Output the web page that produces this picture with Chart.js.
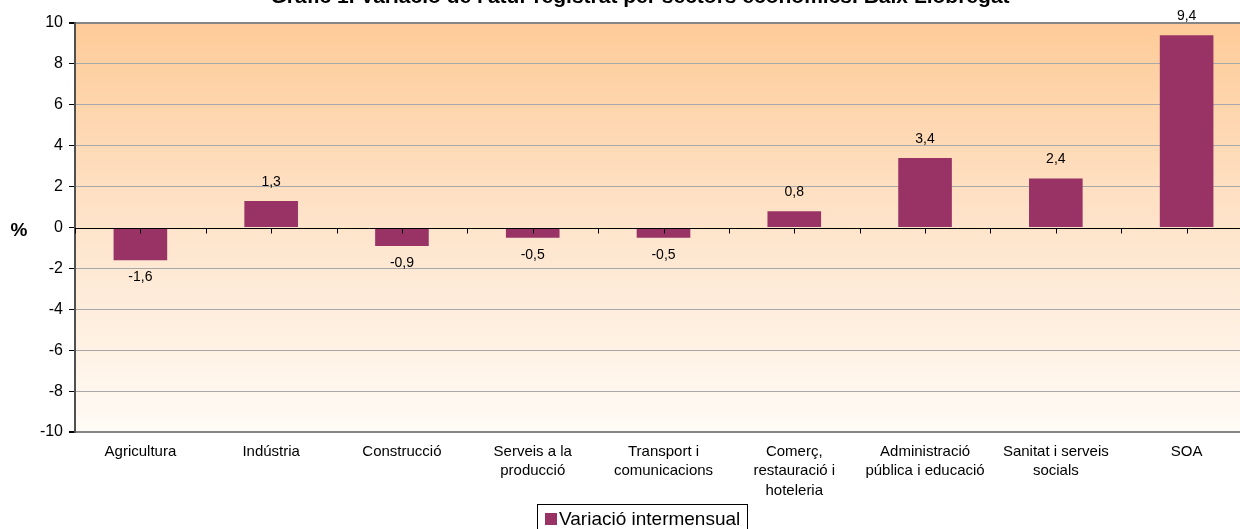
<!DOCTYPE html>
<html>
<head>
<meta charset="utf-8">
<title>Gràfic 1</title>
<script src="https://cdn.jsdelivr.net/npm/chart.js@4/dist/chart.umd.min.js"></script>
<style>
  html, body { margin: 0; padding: 0; background: #fff; overflow: hidden; }
  #wrap { position: absolute; left: 0; top: -12px; width: 1252px; height: 541px; }
</style>
</head>
<body>
<div id="wrap"><canvas id="chart"></canvas></div>
<script>
// ============================================================
// Data
// ============================================================
const titleText = "Gràfic 1. Variació de l'atur registrat per sectors econòmics. Baix Llobregat";
const axisLabel = '%';
const seriesName = 'Variació intermensual';

const categories = [
  'Agricultura',
  'Indústria',
  'Construcció',
  ['Serveis a la', 'producció'],
  ['Transport i', 'comunicacions'],
  ['Comerç,', 'restauració i', 'hoteleria'],
  ['Administració', 'pública i educació'],
  ['Sanitat i serveis', 'socials'],
  'SOA'
];
const values = [-1.6, 1.3, -0.9, -0.5, -0.5, 0.8, 3.4, 2.4, 9.4];

const yMin = -10;
const yMax = 10;
const yStep = 2;

const FONT = "'Liberation Sans', Arial, sans-serif";
const BAR_COLOR = '#993366';

// ============================================================
// Plugins
// ============================================================
const plotBackground = {
  id: 'plotBackground',
  beforeDraw(chart) {
    const { ctx, chartArea: a } = chart;
    const g = ctx.createLinearGradient(0, a.top, 0, a.bottom);
    g.addColorStop(0, '#FECB98');
    g.addColorStop(0.5, '#FEE4CB');
    g.addColorStop(1, '#FFFBF6');
    ctx.save();
    ctx.fillStyle = g;
    ctx.fillRect(a.left, a.top, a.right - a.left, a.bottom - a.top);
    ctx.restore();
  }
};

const zeroAxis = {
  id: 'zeroAxis',
  afterDatasetsDraw(chart) {
    const { ctx, chartArea: a } = chart;
    const x = chart.scales.x;
    const y0 = Math.round(chart.scales.y.getPixelForValue(0)) + 0.5;
    ctx.save();
    ctx.strokeStyle = '#000';
    ctx.lineWidth = 1;
    ctx.beginPath();
    ctx.moveTo(a.left, y0);
    ctx.lineTo(a.right, y0);
    // small ticks every half category, as in the original
    for (let i = -0.5; i <= categories.length - 0.5; i += 0.5) {
      const px = Math.round(x.getPixelForValue(i)) + 0.5;
      ctx.moveTo(px, y0);
      ctx.lineTo(px, y0 + 5);
    }
    ctx.stroke();
    ctx.restore();
  }
};

const dataLabels = {
  id: 'dataLabels',
  afterDatasetsDraw(chart) {
    const { ctx } = chart;
    const meta = chart.getDatasetMeta(0);
    ctx.save();
    ctx.font = `14px ${FONT}`;
    ctx.fillStyle = '#000';
    ctx.textAlign = 'center';
    ctx.textBaseline = 'middle';
    meta.data.forEach((bar, i) => {
      const v = values[i];
      const txt = v.toFixed(1).replace('.', ',');
      const ty = v >= 0 ? bar.y - 19 : bar.y + 17;
      ctx.fillText(txt, bar.x, ty);
    });
    ctx.restore();
  }
};

const decorations = {
  id: 'decorations',
  afterDraw(chart) {
    const { ctx } = chart;
    ctx.save();
    // title (partly cut off at the top, like the original)
    ctx.fillStyle = '#000';
    ctx.font = `bold 21px ${FONT}`;
    ctx.textAlign = 'center';
    ctx.textBaseline = 'alphabetic';
    ctx.fillText(titleText, 640, 15);

    // axis label
    ctx.font = `bold 19px ${FONT}`;
    ctx.textBaseline = 'middle';
    ctx.fillText(axisLabel, 19, 243);

    // legend
    const ds = chart.data.datasets[0];
    ctx.strokeStyle = '#000';
    ctx.lineWidth = 1;
    ctx.strokeRect(537.5, 516.5, 210, 34);
    ctx.fillStyle = ds.backgroundColor;
    ctx.fillRect(545, 525, 12, 12);
    ctx.fillStyle = '#000';
    ctx.font = `19px ${FONT}`;
    ctx.textAlign = 'left';
    ctx.fillText(ds.label, 559, 532);
    ctx.restore();
  }
};

// ============================================================
// Chart
// ============================================================
new Chart(document.getElementById('chart'), {
  type: 'bar',
  data: {
    labels: categories,
    datasets: [{
      label: seriesName,
      data: values,
      backgroundColor: BAR_COLOR,
      borderWidth: 0,
      categoryPercentage: 1,
      barPercentage: 0.41
    }]
  },
  options: {
    responsive: true,
    maintainAspectRatio: false,
    animation: false,
    layout: { padding: { top: 35, right: 0, bottom: 0, left: 0 } },
    plugins: {
      legend: { display: false },
      title: { display: false },
      tooltip: { enabled: false }
    },
    scales: {
      x: {
        grid: { display: false, drawTicks: false },
        border: { display: false },
        ticks: {
          color: '#000',
          font: { family: FONT, size: 15, lineHeight: 1.3 },
          padding: 10,
          maxRotation: 0,
          autoSkip: false
        },
        afterFit: (scale) => { scale.height = 97; }
      },
      y: {
        min: yMin,
        max: yMax,
        ticks: {
          stepSize: yStep,
          color: '#000',
          font: { family: FONT, size: 16 },
          padding: 6
        },
        grid: {
          color: (c) => {
            const v = c.tick ? c.tick.value : null;
            if (v === 0) return 'rgba(0,0,0,0)';
            if (v === yMin || v === yMax) return '#858585';
            return '#a8a8a8';
          },
          lineWidth: (c) => {
            const v = c.tick ? c.tick.value : null;
            return (v === yMin || v === yMax) ? 2 : 1;
          },
          tickColor: '#000',
          tickLength: 6
        },
        border: { display: true, color: '#505050', width: 2 },
        afterFit: (scale) => { scale.width = 75; }
      }
    }
  },
  plugins: [plotBackground, zeroAxis, dataLabels, decorations]
});
</script>
</body>
</html>
